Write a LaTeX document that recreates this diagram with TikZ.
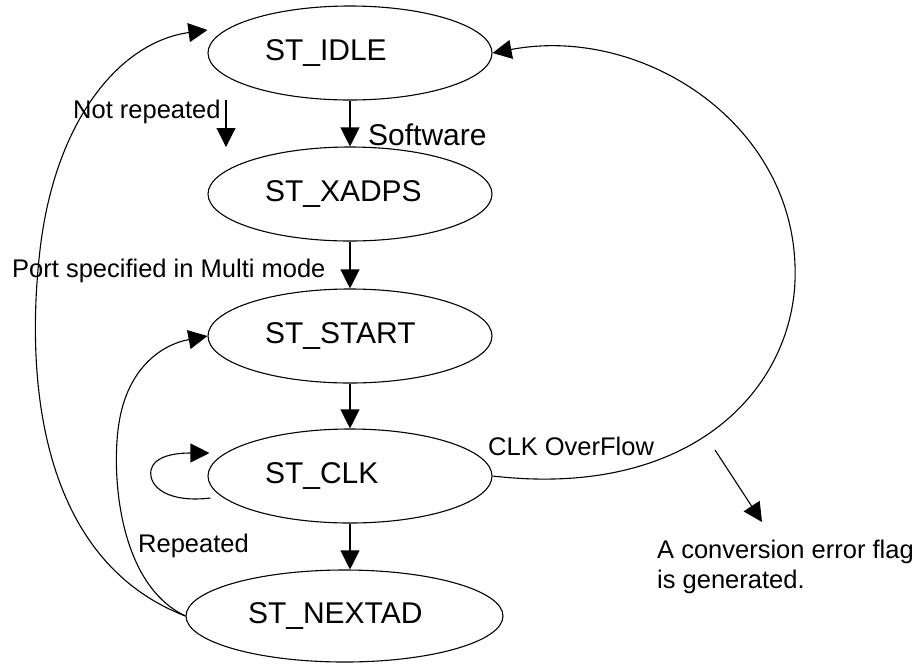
\documentclass[tikz,border=0pt]{standalone}
\usepackage{fontspec}
\setmainfont{Liberation Sans}
\usetikzlibrary{shapes.geometric,arrows.meta,calc}
\tikzset{
  state/.style={draw, ellipse, line width=1.1pt, inner sep=0pt,
    minimum width=284pt, minimum height=94pt, text width=170pt, align=left,
    font=\fontsize{30}{34}\selectfont},
  conn/.style={line width=1.1pt, -{Triangle[length=19pt,width=19pt]}},
  lbl/.style={inner sep=0pt, anchor=base west, font=\fontsize{25.5}{30}\selectfont},
}
\begin{document}
\begin{tikzpicture}[x=1pt,y=-1pt]
\useasboundingbox (0,0) rectangle (918,665);
\node[state] (IDLE) at (350,53) {ST\_IDLE};
\node[state] (XADPS) at (350,194) {ST\_XADPS};
\node[state] (START) at (350,336) {ST\_START};
\node[state] (CLK) at (350,476) {ST\_CLK};
\node[state, minimum width=317pt, minimum height=92pt, text width=193pt] (NEXTAD) at (344.5,616) {ST\_NEXTAD};

\draw[conn] (IDLE.south) -- (XADPS.north);
\draw[conn] (XADPS.south) -- (START.north);
\draw[conn] (START.south) -- (CLK.north);
\draw[conn] (CLK.south) -- (CLK.south |- NEXTAD.north);

% outer return to IDLE
\coordinate (idleIn) at ($(IDLE.west)+(0,-23)$);
\draw[conn] (NEXTAD.west) .. controls (40,560) and (25,380) .. (40,250)
  .. controls (55,120) and (120,42) .. (idleIn);
% repeated to START
\draw[conn] (NEXTAD.west) .. controls (120,585) and (112,480) .. (118,430)
  .. controls (125,370) and (160,345) .. (START.west);
% self loop on CLK
\coordinate (clkOut) at ($(CLK.west)+(3,22)$);
\coordinate (clkIn) at ($(CLK.west)+(2,-23)$);
\draw[conn] (clkOut) .. controls (170,503) and (148,488) .. (151,470)
  .. controls (154,456) and (175,453) .. (clkIn);
% overflow to IDLE
\draw[conn] (CLK.east) .. controls (700,500) and (800,380) .. (795,265)
  .. controls (790,120) and (640,25) .. (IDLE.east);
% free arrows
\coordinate (nrTop) at (226,100);
\coordinate (nrBot) at (226,147);
\draw[conn] (nrTop) -- (nrBot);
\coordinate (errA) at (715,450);
\coordinate (errB) at (762,522);
\draw[conn] (errA) -- (errB);

% labels
\node[lbl] (tNR) at (73,118) {Not repeated};
\node[lbl, font=\fontsize{30}{34}\selectfont] (tSW) at (368,145) {Software};
\node[lbl] (tPort) at (12,277) {Port specified in Multi mode};
\node[lbl] (tRep) at (138,552) {Repeated};
\node[lbl] (tOv) at (488,455) {CLK OverFlow};
\node[lbl] (tErr1) at (657,558) {A conversion error flag};
\node[lbl] (tErr2) at (657,588) {is generated.};
\end{tikzpicture}
\end{document}
